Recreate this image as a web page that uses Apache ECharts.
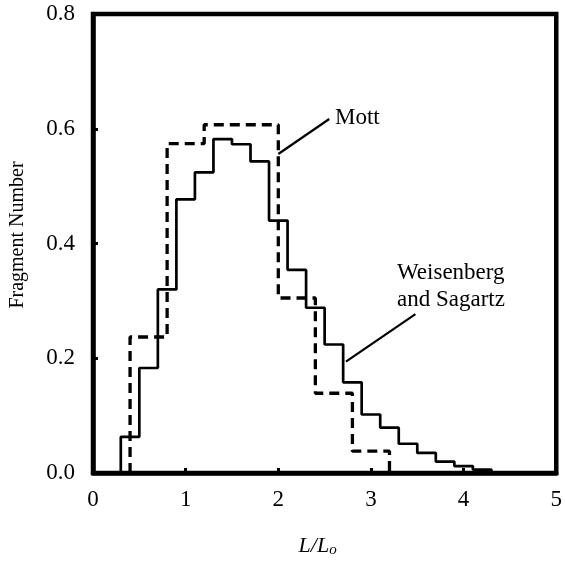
<!DOCTYPE html>
<html>
<head>
<meta charset="utf-8">
<script src="https://cdn.jsdelivr.net/npm/echarts@6/dist/echarts.min.js"></script>
<style>
html,body{margin:0;padding:0;background:#fff;}
#chart{width:565px;height:563px;}
</style>
</head>
<body>
<div id="chart"></div>
<script>
// Weisenberg and Sagartz (solid) histogram
var wsEdges = [0.3, 0.5, 0.7, 0.9, 1.1, 1.3, 1.5, 1.7, 1.9, 2.1, 2.3, 2.5, 2.7, 2.9, 3.1, 3.3, 3.5, 3.7, 3.9, 4.1, 4.3];
var wsValues = [0.063, 0.183, 0.320, 0.477, 0.524, 0.582, 0.573, 0.543, 0.440, 0.354, 0.288, 0.224, 0.158, 0.102, 0.079, 0.051, 0.035, 0.020, 0.012, 0.006];
// Mott (dashed) histogram
var mottEdges = [0.4, 0.8, 1.2, 2.0, 2.4, 2.8, 3.2];
var mottValues = [0.237, 0.574, 0.607, 0.305, 0.139, 0.038];
// Axis ticks
var xTicks = [0, 1, 2, 3, 4, 5];
var yTicks = [0.0, 0.2, 0.4, 0.6, 0.8];
// Leader lines for annotations (data coordinates)
var mottLeader = [[2.00, 0.556], [2.55, 0.617]];
var wsLeader = [[2.73, 0.194], [3.48, 0.277]];

function stepPoints(edges, values) {
  var pts = [[edges[0], 0]];
  for (var i = 0; i < values.length; i++) {
    pts.push([edges[i + 1], values[i]]);
  }
  pts.push([edges[edges.length - 1], 0]);
  return pts;
}

var serif = 'Liberation Serif';
var chart = echarts.init(document.getElementById('chart'));
chart.setOption({
  animation: false,
  backgroundColor: '#fff',
  grid: {left: 93, right: 6, top: 14, bottom: 83, show: true, borderColor: '#000', borderWidth: 4.5},
  xAxis: {
    type: 'value', min: xTicks[0], max: xTicks[xTicks.length - 1], interval: 1,
    name: '{i|L/L}{s|o}', nameLocation: 'middle', nameGap: 61,
    nameTextStyle: {padding: [0, 14, 0, 0], rich: {
      i: {fontFamily: serif, fontSize: 22, fontStyle: 'italic', color: '#000'},
      s: {fontFamily: serif, fontSize: 15, fontStyle: 'italic', color: '#000', verticalAlign: 'bottom', padding: [9, 0, 0, 0]}
    }},
    axisLine: {show: true, onZero: false, lineStyle: {color: '#000', width: 4.5}},
    axisTick: {show: true, inside: true, length: 5, lineStyle: {color: '#000', width: 3}},
    axisLabel: {fontFamily: serif, fontSize: 23, color: '#000', margin: 15},
    splitLine: {show: false}
  },
  yAxis: {
    type: 'value', min: yTicks[0], max: yTicks[yTicks.length - 1], interval: 0.2,
    axisLine: {show: true, onZero: false, lineStyle: {color: '#000', width: 4.5}},
    axisTick: {show: true, inside: true, length: 5, lineStyle: {color: '#000', width: 3}},
    axisLabel: {fontFamily: serif, fontSize: 23, color: '#000', margin: 18,
      formatter: function (v) { return v.toFixed(1); }},
    splitLine: {show: false}
  },
  series: [
    {
      type: 'line', step: 'start', data: stepPoints(mottEdges, mottValues),
      symbol: 'none', lineStyle: {color: '#000', width: 3.3, type: [10, 6]}, z: 3
    },
    {
      type: 'line', step: 'start', data: stepPoints(wsEdges, wsValues),
      symbol: 'none', lineStyle: {color: '#000', width: 2.7, type: 'solid'}, z: 4
    },
    {
      type: 'line', data: mottLeader, symbol: 'none',
      lineStyle: {color: '#000', width: 2.2}, z: 5
    },
    {
      type: 'line', data: wsLeader, symbol: 'none',
      lineStyle: {color: '#000', width: 2.2}, z: 5
    }
  ],
  graphic: [
    {type: 'text', x: 18, y: 235, rotation: Math.PI / 2,
      style: {text: 'Fragment Number', font: '20px "Liberation Serif"', fill: '#000', align: 'center', verticalAlign: 'middle'}},
    {type: 'text', x: 335, y: 118, style: {text: 'Mott', font: '23px "Liberation Serif"', fill: '#000', verticalAlign: 'middle'}},
    {type: 'text', x: 397, y: 272.5, style: {text: 'Weisenberg', font: '23px "Liberation Serif"', fill: '#000', verticalAlign: 'middle'}},
    {type: 'text', x: 397, y: 300, style: {text: 'and Sagartz', font: '23px "Liberation Serif"', fill: '#000', verticalAlign: 'middle'}}
  ]
});
</script>
</body>
</html>
